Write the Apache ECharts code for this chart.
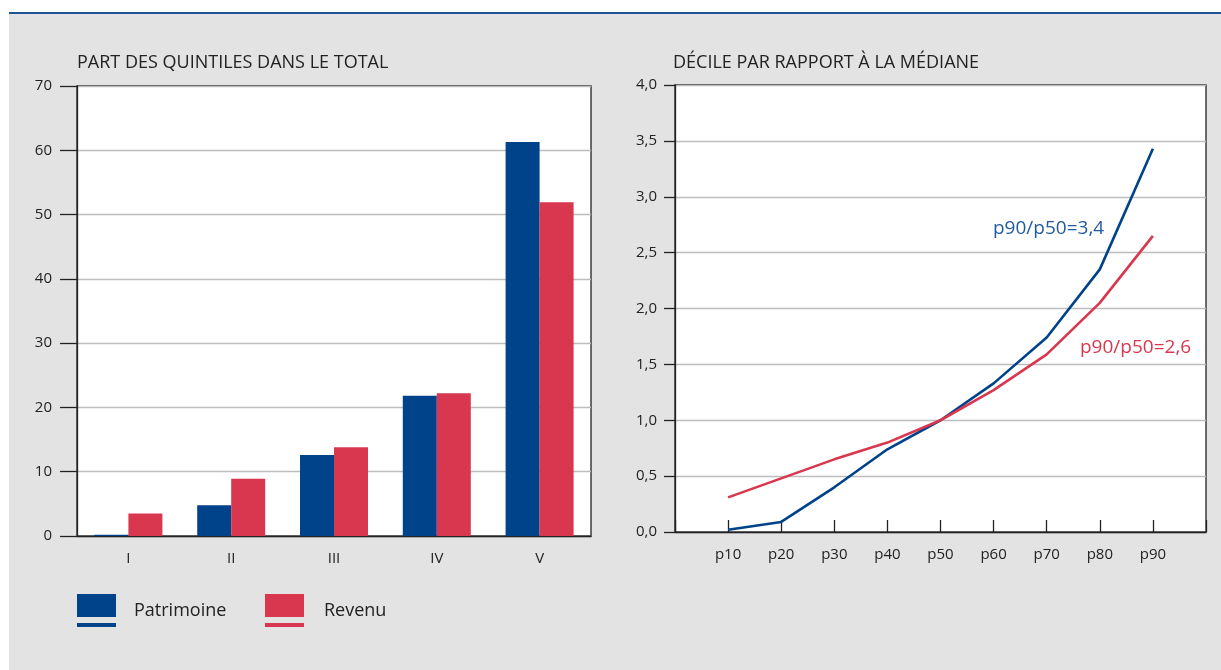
<!DOCTYPE html>
<html>
<head>
<meta charset="utf-8">
<script src="https://cdn.jsdelivr.net/npm/echarts@6/dist/echarts.min.js"></script>
<style>
  body { margin: 0; background: #fff; }
  #frame { position: absolute; left: 9px; top: 12px; width: 1212px; height: 656px; background: #e3e3e3; border-top: 2px solid #1d5597; }
  #main { position: absolute; left: 0; top: 0; width: 1221px; height: 670px; }
</style>
</head>
<body>
<div id="frame"></div>
<div id="main"></div>
<script>
// quintiles (left panel)
var quintiles = ['I', 'II', 'III', 'IV', 'V'];
var patrimoineShare = [0.2, 4.8, 12.6, 21.8, 61.3];
var revenuShare = [3.5, 8.9, 13.8, 22.2, 51.9];

// deciles (right panel)
var deciles = ['p10', 'p20', 'p30', 'p40', 'p50', 'p60', 'p70', 'p80', 'p90'];
var patrimoineRatio = [0.02, 0.09, 0.40, 0.74, 1.00, 1.33, 1.74, 2.35, 3.43];
var revenuRatio = [0.31, 0.48, 0.65, 0.80, 1.00, 1.27, 1.59, 2.05, 2.65];

var BLUE = '#00438a';
var RED = '#d9374f';
var TXT = '#222';
var FONT = 'Open Sans';

// padding categories so p10..p90 sit one step inside the frame
var decileAxis = [''].concat(deciles, ['']);
var pad = function (arr) { return [null].concat(arr, [null]); };

var legendIcon = 'path://M0,0H39V23H0Z M0,29H39V33H0Z';

var option = {
  textStyle: { fontFamily: FONT, color: TXT },
  animation: false,
  title: [
    { text: 'PART DES QUINTILES DANS LE TOTAL', left: 77, top: 54, padding: 0,
      textStyle: { fontFamily: FONT, fontSize: 18, fontWeight: 'normal', color: TXT } },
    { text: 'DÉCILE PAR RAPPORT À LA MÉDIANE', left: 673, top: 54, padding: 0,
      textStyle: { fontFamily: FONT, fontSize: 18, fontWeight: 'normal', color: TXT } }
  ],
  legend: [
    { data: ['Patrimoine'], left: 77, top: 594, padding: 0, icon: legendIcon, itemWidth: 39, itemHeight: 33,
      textStyle: { fontFamily: FONT, fontSize: 18, color: TXT, padding: [0, 0, 0, 13] } },
    { data: ['Revenu'], left: 265, top: 594, padding: 0, icon: legendIcon, itemWidth: 39, itemHeight: 33,
      textStyle: { fontFamily: FONT, fontSize: 18, color: TXT, padding: [0, 0, 0, 15] } }
  ],
  grid: [
    { left: 77, top: 86, width: 514, height: 450, show: true, backgroundColor: '#fff',
      borderColor: '#222', borderWidth: 1.3 },
    { left: 675, top: 85, width: 531, height: 447, show: true, backgroundColor: '#fff',
      borderColor: '#222', borderWidth: 1.3 }
  ],
  xAxis: [
    { gridIndex: 0, type: 'category', data: quintiles,
      axisLine: { lineStyle: { color: '#222', width: 1.3 } },
      axisTick: { inside: true, length: 12, lineStyle: { color: '#222', width: 1.3 } },
      axisLabel: { margin: 15, fontSize: 15, color: TXT, fontFamily: FONT } },
    { gridIndex: 1, type: 'category', data: decileAxis, boundaryGap: false,
      axisLine: { lineStyle: { color: '#222', width: 1.3 } },
      axisTick: { inside: true, length: 12, interval: 0, lineStyle: { color: '#222', width: 1.3 } },
      axisLabel: { margin: 15, fontSize: 15, color: TXT, fontFamily: FONT, interval: 0 } }
  ],
  yAxis: [
    { gridIndex: 0, type: 'value', min: 0, max: 70, interval: 10,
      axisLine: { show: true, lineStyle: { color: '#222', width: 1.3 } },
      axisTick: { show: true, length: 17, lineStyle: { color: '#222', width: 1.3 } },
      axisLabel: { margin: 25, fontSize: 15, color: TXT, fontFamily: FONT },
      splitLine: { lineStyle: { color: '#bdbdbd', width: 1.3 } } },
    { gridIndex: 1, type: 'value', min: 0, max: 4, interval: 0.5,
      axisLine: { show: true, lineStyle: { color: '#222', width: 1.3 } },
      axisTick: { show: true, length: 11, lineStyle: { color: '#222', width: 1.3 } },
      axisLabel: { margin: 18, fontSize: 15, color: TXT, fontFamily: FONT,
        formatter: function (v) { return v.toFixed(1).replace('.', ','); } },
      splitLine: { lineStyle: { color: '#bdbdbd', width: 1.3 } } }
  ],
  series: [
    { name: 'Patrimoine', type: 'bar', xAxisIndex: 0, yAxisIndex: 0, data: patrimoineShare,
      barWidth: 34, barGap: '0%', itemStyle: { color: BLUE } },
    { name: 'Revenu', type: 'bar', xAxisIndex: 0, yAxisIndex: 0, data: revenuShare,
      barWidth: 34, barGap: '0%', itemStyle: { color: RED } },
    { name: 'Patrimoine', type: 'line', xAxisIndex: 1, yAxisIndex: 1, data: pad(patrimoineRatio),
      symbol: 'none', lineStyle: { color: BLUE, width: 2.6 }, itemStyle: { color: BLUE } },
    { name: 'Revenu', type: 'line', xAxisIndex: 1, yAxisIndex: 1, data: pad(revenuRatio),
      symbol: 'none', lineStyle: { color: RED, width: 2.6 }, itemStyle: { color: RED } }
  ],
  graphic: [
    { type: 'text', left: 993, top: 219,
      style: { text: 'p90/p50=3,4', fill: '#1f5a9f', font: '19px "Open Sans"' } },
    { type: 'text', left: 1080, top: 338,
      style: { text: 'p90/p50=2,6', fill: RED, font: '19px "Open Sans"' } }
  ]
};

var chart = echarts.init(document.getElementById('main'));
chart.setOption(option);
</script>
</body>
</html>
